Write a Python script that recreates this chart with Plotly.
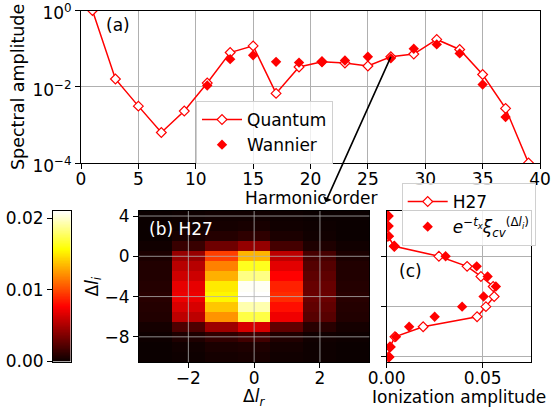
import numpy as np
import plotly.graph_objects as go

W, H = 551, 410

# ---------------- data ----------------
harmonics = [1, 3, 5, 7, 9, 11, 13, 15, 17, 19, 21, 23, 25, 27, 29, 31, 33, 35, 37, 39]
quantum = [1.0, 0.016, 0.0031, 0.00063, 0.0023, 0.0125, 0.079, 0.118, 0.0067, 0.033,
           0.045, 0.042, 0.035, 0.061, 0.072, 0.174, 0.095, 0.021, 0.0027, 0.0001]
wannier_h = [11, 13, 15, 17, 19, 21, 23, 25, 27, 29, 31, 33, 35, 37]
wannier = [0.0108, 0.053, 0.067, 0.045, 0.043, 0.045, 0.049, 0.061, 0.056, 0.099,
           0.129, 0.075, 0.0115, 0.0016]

dl_r = [-3, -2, -1, 0, 1, 2, 3]
dl_i = [4, 3, 2, 1, 0, -1, -2, -3, -4, -5, -6, -7, -8, -9, -10]
# |amplitude| map (units of 1e-3), rows follow dl_i, columns follow dl_r
amp_map = [
    [0.0, 0.1, 0.2, 0.2, 0.1, 0.0, 0.0],
    [0.0, 0.1, 0.3, 0.4, 0.2, 0.1, 0.0],
    [0.0, 0.4, 0.8, 1.1, 0.5, 0.2, 0.0],
    [0.2, 1.4, 3.1, 4.3, 1.8, 0.6, 0.2],
    [0.5, 4.4, 9.6, 13.3, 5.6, 1.9, 0.5],
    [0.7, 5.4, 11.7, 16.3, 6.8, 2.3, 0.7],
    [0.7, 6.1, 13.2, 18.4, 7.7, 2.6, 0.7],
    [0.8, 6.9, 15.0, 20.8, 8.7, 2.9, 0.8],
    [0.9, 7.1, 15.4, 21.0, 9.0, 3.0, 0.9],
    [0.8, 6.4, 13.9, 19.3, 8.1, 2.7, 0.8],
    [0.7, 5.6, 12.3, 17.1, 7.2, 2.4, 0.7],
    [0.3, 2.1, 4.6, 6.4, 2.7, 0.9, 0.3],
    [0.1, 0.6, 1.2, 1.7, 0.7, 0.2, 0.1],
    [0.0, 0.2, 0.5, 0.6, 0.3, 0.1, 0.0],
    [0.0, 0.1, 0.3, 0.4, 0.2, 0.1, 0.0],
]
h27 = [0.0005, 0.0005, 0.0006, 0.004, 0.0272, 0.0419, 0.0491, 0.0555, 0.056,
       0.0517, 0.0471, 0.019, 0.0043, 0.0017, 0.001]
model = [0.001, 0.001, 0.0012, 0.0038, 0.0307, 0.0469, 0.0526, 0.0569, 0.0505,
         0.0393, 0.025, 0.0117, 0.0048, 0.002, 0.0014]

zmax = 0.0210
cb_ticks = [0.0, 0.01, 0.02]
cb_text = ["0.00", "0.01", "0.02"]
top_xticks = [0, 5, 10, 15, 20, 25, 30, 35, 40]
top_yticks = [1e-4, 1e-2, 1]
top_ytext = ["10<sup>−4</sup>", "10<sup>−2</sup>", "10<sup>0</sup>"]
hm_xticks = [-2, 0, 2]
hm_yticks = [4, 0, -4, -8]
c_xticks = [0, 0.05]
c_yticks = [0, -5, -10]

# ---------------- style ----------------
RED = "#ff0000"
FONT = "DejaVu Sans"
FS = 17
GRID = "#b0b0b0"

def fx(px):
    return px / W

def fy(py):
    return 1 - py / H

hot = [[0.0, "rgb(11,0,0)"], [0.365, "rgb(255,0,0)"],
       [0.746, "rgb(255,255,0)"], [1.0, "rgb(255,255,255)"]]

fig = go.Figure()

# panel (a)
fig.add_trace(go.Scatter(
    x=harmonics, y=quantum, mode="lines+markers", name="Quantum",
    line=dict(color=RED, width=1.5),
    marker=dict(symbol="diamond", size=7.5, color="white", line=dict(color=RED, width=1.2)),
    xaxis="x", yaxis="y", legend="legend"))
fig.add_trace(go.Scatter(
    x=wannier_h, y=wannier, mode="markers", name="Wannier",
    marker=dict(symbol="diamond", size=8, color=RED, line=dict(width=0)),
    xaxis="x", yaxis="y", legend="legend"))

# panel (b)
z = (np.array(amp_map) * 1e-3).tolist()
fig.add_trace(go.Heatmap(
    x=dl_r, y=dl_i, z=z, colorscale=hot, zmin=0, zmax=zmax, showscale=False,
    xaxis="x2", yaxis="y2"))

# panel (c)
fig.add_trace(go.Scatter(
    x=h27, y=dl_i, mode="lines+markers", name="H27",
    line=dict(color=RED, width=1.5),
    marker=dict(symbol="diamond", size=7.5, color="white", line=dict(color=RED, width=1.2)),
    xaxis="x3", yaxis="y3", legend="legend2"))
fig.add_trace(go.Scatter(
    x=model, y=dl_i, mode="markers",
    name="<i>e</i><sup>−<i>t<sub>x</sub></i></sup><i>ξ</i><sub><i>cv</i></sub><sup>(Δ<i>l<sub>i</sub></i>)</sup>",
    marker=dict(symbol="diamond", size=8, color=RED, line=dict(width=0)),
    xaxis="x3", yaxis="y3", legend="legend2"))

# colorbar as its own small axis
levels = np.linspace(0, zmax, 256)
fig.add_trace(go.Heatmap(
    x=[0], y=levels, z=[[v] for v in levels], colorscale=hot, zmin=0, zmax=zmax,
    showscale=False, xaxis="x4", yaxis="y4", hoverinfo="skip"))

axis_common = dict(showline=True, mirror=True, linecolor="black", linewidth=1,
                   ticks="outside", ticklen=5, tickcolor="black", tickwidth=1,
                   tickfont=dict(family=FONT, size=FS, color="black"),
                   zeroline=False, automargin=False, ticklabeloverflow="allow")
grid_common = dict(gridcolor=GRID, gridwidth=0.8)
xshift = dict(ticklabelstandoff=-4)

fig.update_layout(
    width=W, height=H, margin=dict(l=0, r=0, t=0, b=0, pad=0, autoexpand=False),
    paper_bgcolor="white", plot_bgcolor="white",
    font=dict(family=FONT, size=FS, color="black"),
    xaxis=dict(domain=[fx(81), fx(540)], range=[0, 40], tickvals=top_xticks,
               showgrid=True, anchor="y", **axis_common, **grid_common, **xshift),
    yaxis=dict(domain=[fy(163), fy(10.5)], type="log", range=[-4, 0],
               tickvals=top_yticks, ticktext=top_ytext, showgrid=True, anchor="x",
               ticklabelshift=3, **axis_common, **grid_common),
    xaxis2=dict(domain=[fx(139), fx(369.3)], range=[-3.5, 3.5], tickvals=hm_xticks,
                ticktext=["−2", "0", "2"], showgrid=False, anchor="y2",
                **axis_common, **xshift),
    yaxis2=dict(domain=[fy(362), fy(211)], range=[-10.5, 4.5], tickvals=hm_yticks,
                ticktext=["4", "0", "−4", "−8"], showgrid=False, anchor="x2", **axis_common),
    xaxis3=dict(domain=[fx(386.7), fx(531)], range=[0, 0.0752], tickvals=c_xticks,
                ticktext=["0.00", "0.05"], showgrid=True, anchor="y3",
                **axis_common, **grid_common, **xshift),
    yaxis3=dict(domain=[fy(362), fy(211)], range=[-10.5, 4.5], tickvals=c_yticks,
                showticklabels=False, showgrid=True, anchor="x3",
                **axis_common, **grid_common),
    xaxis4=dict(domain=[fx(53), fx(70.5)], range=[-0.5, 0.5], showticklabels=False,
                showline=True, mirror=True, linecolor="black", linewidth=1,
                ticks="", showgrid=False, zeroline=False, anchor="y4", automargin=False),
    yaxis4=dict(domain=[fy(361.5), fy(211)], range=[0, zmax], tickvals=cb_ticks,
                ticktext=cb_text, showgrid=False, anchor="x4", side="left", **axis_common),
    legend=dict(x=fx(196), y=fy(101), xanchor="left", yanchor="top",
                bgcolor="rgba(255,255,255,0.8)", bordercolor="#d0d0d0", borderwidth=1,
                font=dict(family=FONT, size=FS, color="black"), itemwidth=40),
    legend2=dict(x=fx(401.7), y=fy(183), xanchor="left", yanchor="top",
                 bgcolor="rgba(255,255,255,0.8)", bordercolor="#d0d0d0", borderwidth=1,
                 font=dict(family=FONT, size=FS, color="black"), itemwidth=40),
    showlegend=True,
)

# grid lines drawn over the heatmap
for v in hm_xticks:
    fig.add_shape(type="line", xref="x2", yref="y2 domain", x0=v, x1=v, y0=0, y1=1,
                  line=dict(color=GRID, width=0.8), layer="above")
for v in hm_yticks:
    fig.add_shape(type="line", xref="x2 domain", yref="y2", x0=0, x1=1, y0=v, y1=v,
                  line=dict(color=GRID, width=0.8), layer="above")

# text labels
def txt(text, x, y, color="black", angle=0, xanchor="center", size=FS):
    fig.add_annotation(text=text, x=fx(x), y=fy(y), xref="paper", yref="paper",
                       showarrow=False, xanchor=xanchor, yanchor="middle", textangle=angle,
                       font=dict(family=FONT, size=size, color=color))

txt("Spectral amplitude", 18, 87, angle=-90, size=17.5)
txt("Harmonic order", 310.5, 198)
txt("Δ<i>l<sub>i</sub></i>", 93, 286.5, angle=-90)
txt("Δ<i>l<sub>r</sub></i>", 254, 397)
txt("Ionization amplitude", 459, 397)
txt("(a)", 104, 25, xanchor="left")
txt("(b) H27", 147, 229, color="white", xanchor="left")
txt("(c)", 397, 271, xanchor="left")

# arrow from H27 point in (a) to the map in (b)
i27 = harmonics.index(27)
fig.add_annotation(x=27, y=np.log10(quantum[i27]), xref="x", yref="y",
                   ax=-66, ay=147, axref="pixel", ayref="pixel", text="",
                   showarrow=True, arrowside="start", arrowhead=2, arrowsize=1,
                   arrowwidth=1.6, arrowcolor="black", standoff=0, startstandoff=0)

fig.write_html("out.html")
